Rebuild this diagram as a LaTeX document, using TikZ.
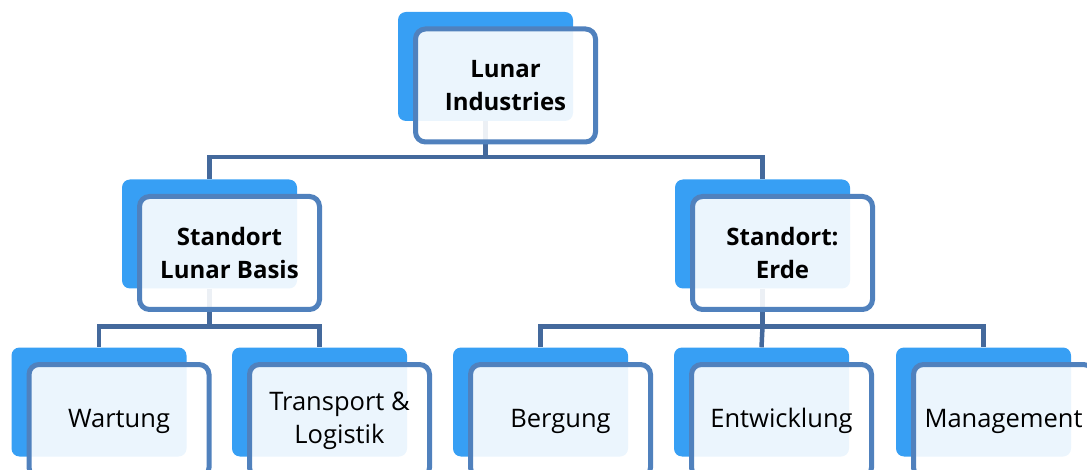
\documentclass[tikz,border=0pt]{standalone}
\usepackage{fontspec}
\setmainfont{Open Sans}
\usetikzlibrary{positioning, calc}
\definecolor{boxblue}{HTML}{379FF4}
\definecolor{frameblue}{HTML}{5081BD}
\definecolor{linkblue}{HTML}{44699C}

\begin{document}
\begin{tikzpicture}[x=1pt, y=-1pt,
    back/.style={rectangle, rounded corners=8pt, fill=boxblue,
      minimum width=175pt, minimum height=109pt, inner sep=0pt},
    front/.style={rectangle, rounded corners=10pt, draw=frameblue, line width=5pt,
      fill=white, fill opacity=0.9, text opacity=1,
      minimum width=180pt, minimum height=113pt, inner sep=0pt,
      align=center, font=\fontsize{25.5}{33}\selectfont},
    head/.style={front, font=\fontsize{24}{33}\selectfont\bfseries},
    link/.style={draw=linkblue, line width=4.5pt}]
  \useasboundingbox (0,0) rectangle (1087,470);

  % back panels
  \node[back] (top) at (485.5,66.5) {};
  \node[back] (base) at (209.5,234) {};
  \node[back] (earth) at (762.5,234) {};
  \foreach \x/\name in {99/wart, 319.5/trans, 540.5/berg, 761.5/entw, 983.5/mgmt} {
    \node[back] (\name) at (\x,402) {};
  }

  % links
  \draw[link] (top.south) -- ++(0,36) coordinate (topbar) -| (base.north);
  \draw[link] (topbar) -| (earth.north);
  \draw[link] (base.south) -- ++(0,38) coordinate (basebar) -| (wart.north);
  \draw[link] (basebar) -| (trans.north);
  \draw[link] (earth.south) -- ++(0,38) coordinate (earthbar) -| (berg.north);
  \draw[link] (earthbar) -| (mgmt.north);
  \draw[link] (earthbar) -- (entw.north);

  % front frames
  \node[head] (topf) at ($(top)+(20,19)$) {Lunar\\Industries};
  \node[head] (basef) at ($(base)+(20,19)$) {Standort\\Lunar Basis};
  \node[head] (earthf) at ($(earth)+(20,19)$) {Standort:\\Erde};
  \foreach \name/\txt in {wart/Wartung, trans/{Transport \&\\Logistik}, berg/Bergung,
      entw/Entwicklung, mgmt/Management} {
    \node[front] (\name f) at ($(\name)+(20,19)$) {\txt};
  }
\end{tikzpicture}
\end{document}
